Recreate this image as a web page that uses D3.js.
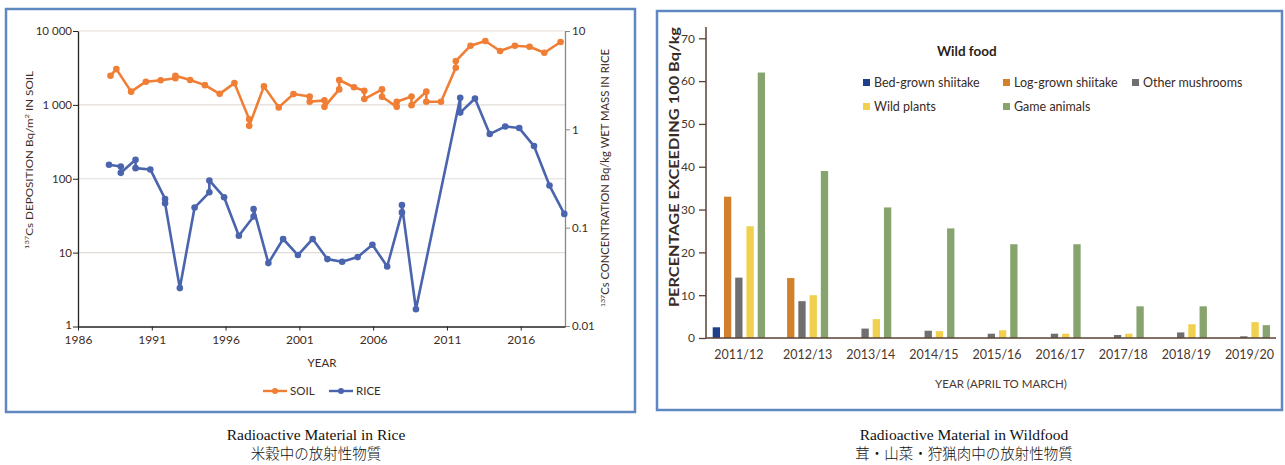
<!DOCTYPE html>
<html>
<head>
<meta charset="utf-8">
<script src="https://cdn.jsdelivr.net/npm/d3@7"></script>
<style>
  body { margin: 0; background: #fff; }
  svg { display: block; }
  text { font-family: Lato, "Noto Sans", sans-serif; }
</style>
</head>
<body>
<svg id="chart" width="1285" height="465"></svg>
<script>
// ---- left chart: 137Cs in soil and rice ----
const soilYears = [1988.2, 1988.6, 1989.6, 1990.6, 1991.6, 1992.6, 1992.6, 1993.6, 1994.6, 1995.6,
  1996.6, 1997.6, 1997.6, 1998.6, 1999.6, 2000.6, 2001.7, 2001.7, 2002.7, 2002.7,
  2003.7, 2003.7, 2004.7, 2005.4, 2005.4, 2006.6, 2006.6, 2007.6, 2007.6, 2008.6,
  2008.6, 2009.6, 2009.6, 2010.6, 2011.6, 2011.6, 2012.6, 2013.6, 2014.6, 2015.6,
  2016.6, 2017.6, 2018.7];
const soilValues = [2480, 3050, 1510, 2060, 2150, 2290, 2480, 2170, 1850, 1410,
  1970, 640, 520, 1780, 925, 1400, 1300, 1100, 1150, 940,
  1620, 2170, 1730, 1550, 1200, 1620, 1290, 940, 1100, 1300,
  990, 1510, 1100, 1100, 3180, 3920, 6320, 7320, 5360, 6320,
  6130, 5080, 7100];

const riceYears = [1988.1, 1988.9, 1988.9, 1989.9, 1989.9, 1990.9, 1991.9, 1991.9, 1992.9, 1993.9,
  1994.9, 1994.9, 1995.9, 1996.9, 1997.9, 1997.9, 1998.9, 1999.9, 2000.9, 2001.9,
  2002.9, 2003.9, 2004.95, 2005.95, 2006.95, 2007.95, 2007.95, 2008.9, 2011.9, 2011.9,
  2012.9, 2013.9, 2014.95, 2015.9, 2016.9, 2017.95, 2018.95];
const riceValues = [0.436, 0.419, 0.361, 0.491, 0.403, 0.391, 0.196, 0.177, 0.0243, 0.16,
  0.229, 0.302, 0.204, 0.0828, 0.130, 0.155, 0.0436, 0.0767, 0.0527, 0.0767,
  0.0479, 0.045, 0.0502, 0.0671, 0.0403, 0.143, 0.170, 0.0148, 2.09, 1.48,
  2.06, 0.895, 1.07, 1.03, 0.676, 0.268, 0.138];

const yearTicks = [1986, 1991, 1996, 2001, 2006, 2011, 2016];
const soilTicks = [1, 10, 100, 1000, 10000];
const soilTickLabels = ["1", "10", "100", "1 000", "10 000"];
const riceTicks = [0.01, 0.1, 1, 10];
const riceTickLabels = ["0.01", "0.1", "1", "10"];

// ---- right chart: wild food over 100 Bq/kg ----
const seasons = ["2011/12", "2012/13", "2013/14", "2014/15", "2015/16", "2016/17", "2017/18", "2018/19", "2019/20"];
const foodNames = ["Bed-grown shiitake", "Log-grown shiitake", "Other mushrooms", "Wild plants", "Game animals"];
const bedGrown = [2.5, null, null, null, null, null, null, null, null];
const logGrown = [33, 14, 0, 0, 0, 0, 0, 0, 0];
const otherMushrooms = [14.1, 8.6, 2.2, 1.7, 1.0, 1.0, 0.7, 1.3, 0.4];
const wildPlants = [26.1, 10, 4.4, 1.6, 1.8, 1.0, 1.0, 3.2, 3.7];
const gameAnimals = [62, 39, 30.5, 25.6, 21.9, 21.9, 7.4, 7.4, 3.0];
const pctTicks = [0, 10, 20, 30, 40, 50, 60, 70];

const foodSeries = [bedGrown, logGrown, otherMushrooms, wildPlants, gameAnimals];
const foodColors = ["#1f3f8c", "#d2802c", "#6f6f6f", "#f0d04c", "#87a36e"];

const svg = d3.select("#chart");
const txt = "#3e2c24";

// panel frames
svg.append("rect").attr("x", 6).attr("y", 9).attr("width", 629).attr("height", 403)
  .attr("fill", "none").attr("stroke", "#5f88c0").attr("stroke-width", 2.5);
svg.append("rect").attr("x", 657).attr("y", 11).attr("width", 625).attr("height", 399)
  .attr("fill", "none").attr("stroke", "#5f88c0").attr("stroke-width", 2.5);

// ================= left =================
const x = d3.scaleLinear().domain([1986, 2019]).range([78, 565]);
const ySoil = d3.scaleLog().domain([1, 10000]).range([326.5, 31]);
const yRice = d3.scaleLog().domain([0.01, 10]).range([326, 31]);

const L = svg.append("g");

L.selectAll(".grid").data(soilTicks.slice(1)).join("line")
  .attr("x1", x(1986)).attr("x2", x(2019))
  .attr("y1", d => ySoil(d)).attr("y2", d => ySoil(d))
  .attr("stroke", "#e2dcd8").attr("stroke-width", 1.2);

const axL = L.append("g").attr("transform", `translate(${x(1986)},0)`)
  .call(d3.axisLeft(ySoil).tickValues(soilTicks).tickFormat((d, i) => soilTickLabels[i]).tickSize(5).tickSizeOuter(0));
const axR = L.append("g").attr("transform", `translate(${x(2019)},0)`)
  .call(d3.axisRight(yRice).tickValues(riceTicks).tickFormat((d, i) => riceTickLabels[i]).tickSize(5).tickSizeOuter(0));
const axB = L.append("g").attr("transform", `translate(0,${ySoil(1)})`)
  .call(d3.axisBottom(x).tickValues(yearTicks).tickFormat(d3.format("d")).tickSize(4).tickSizeOuter(0));

[axL, axB].forEach(a => { a.select(".domain").attr("stroke", "#222").attr("stroke-width", 1.3); a.selectAll(".tick line").attr("stroke", "#222"); });
axR.select(".domain").attr("stroke", "#888").attr("stroke-width", 1.3);
axR.selectAll(".tick line").attr("stroke", "#888");
[axL, axR, axB].forEach(a => a.selectAll(".tick text").attr("fill", txt).attr("font-size", 11.5).style("font-family", "Lato, sans-serif"));
axL.selectAll(".tick text").attr("x", -6);
axL.selectAll(".tick text").filter(d => d === 1).attr("dy", "0.15em");
axR.selectAll(".tick text").attr("x", 7);
axB.selectAll(".tick text").attr("y", 9).attr("font-size", 12);

const soilLine = d3.line().x(d => x(d[0])).y(d => ySoil(d[1]));
const riceLine = d3.line().x(d => x(d[0])).y(d => yRice(d[1]));
const soilPts = soilYears.map((yr, i) => [yr, soilValues[i]]);
const ricePts = riceYears.map((yr, i) => [yr, riceValues[i]]);
const orange = "#f07e34", blue = "#4a64ae";

L.append("path").attr("d", soilLine(soilPts)).attr("fill", "none").attr("stroke", orange).attr("stroke-width", 2.6).attr("stroke-linejoin", "round");
L.selectAll(".sp").data(soilPts).join("circle").attr("cx", d => x(d[0])).attr("cy", d => ySoil(d[1])).attr("r", 3.3).attr("fill", orange);
L.append("path").attr("d", riceLine(ricePts)).attr("fill", "none").attr("stroke", blue).attr("stroke-width", 2.6).attr("stroke-linejoin", "round");
L.selectAll(".rp").data(ricePts).join("circle").attr("cx", d => x(d[0])).attr("cy", d => yRice(d[1])).attr("r", 3.3).attr("fill", blue);

// axis titles
const t1 = L.append("text").attr("transform", "translate(33,160) rotate(-90)").attr("text-anchor", "middle").attr("fill", txt).attr("font-size", 10)
  .attr("textLength", 178).attr("lengthAdjust", "spacingAndGlyphs");
t1.append("tspan").attr("font-size", 6.5).attr("dy", -4).text("137");
t1.append("tspan").attr("dy", 4).text("Cs DEPOSITION Bq/m");
t1.append("tspan").attr("font-size", 6.5).attr("dy", -4).text("2");
t1.append("tspan").attr("dy", 4).text(" IN SOIL");
const t2 = L.append("text").attr("transform", "translate(609,178) rotate(-90)").attr("text-anchor", "middle").attr("fill", txt).attr("font-size", 10.5)
  .attr("textLength", 258).attr("lengthAdjust", "spacingAndGlyphs");
t2.append("tspan").attr("font-size", 6.5).attr("dy", -4).text("137");
t2.append("tspan").attr("dy", 4).text("Cs CONCENTRATION Bq/kg WET MASS IN RICE");

L.append("text").attr("x", 322).attr("y", 367).attr("text-anchor", "middle").attr("fill", txt).attr("font-size", 11.5).text("YEAR");

const legL = [["SOIL", orange, 263], ["RICE", blue, 329]];
legL.forEach(([name, c, lx]) => {
  L.append("line").attr("x1", lx).attr("x2", lx + 24).attr("y1", 391).attr("y2", 391).attr("stroke", c).attr("stroke-width", 2.4);
  L.append("circle").attr("cx", lx + 12).attr("cy", 391).attr("r", 3).attr("fill", c);
  L.append("text").attr("x", lx + 27).attr("y", 395).attr("fill", txt).attr("font-size", 11.5).text(name);
});

// ================= right =================
const gapUnits = 1.61, barFrac = 0.65;
let u = 0;
const groups = seasons.map((s, i) => {
  const idx = foodSeries.map((ser, k) => k).filter(k => foodSeries[k][i] !== null);
  const g = { season: s, i, start: u, idx };
  u += idx.length + gapUnits;
  return g;
});
const lastG = groups[groups.length - 1];
const totalUnits = lastG.start + lastG.idx.length - 1 + barFrac;
const xs = d3.scaleLinear().domain([0, totalUnits]).range([712.7, 1270]);
const yp = d3.scaleLinear().domain([0, 70]).range([338, 38.3]);

const R = svg.append("g");
const axY = R.append("g").attr("transform", "translate(706,0)")
  .call(d3.axisLeft(yp).tickValues(pctTicks).tickSize(7).tickSizeOuter(0));
axY.select(".domain").remove();
axY.selectAll(".tick line").attr("stroke", "#5a4035").attr("stroke-width", 1.3);
axY.selectAll(".tick text").attr("x", -11).attr("fill", "#4a3830").attr("font-size", 12).style("font-family", "Lato, sans-serif");
R.append("line").attr("x1", 706).attr("x2", 706).attr("y1", 27).attr("y2", yp(0)).attr("stroke", "#5a4035").attr("stroke-width", 1.5);

const bars = [];
groups.forEach(g => g.idx.forEach((k, j) => {
  const v = foodSeries[k][g.i];
  if (v > 0) bars.push({ u: g.start + j, v, c: foodColors[k] });
}));
R.selectAll(".bar").data(bars).join("rect")
  .attr("x", d => xs(d.u)).attr("width", xs(barFrac) - xs(0))
  .attr("y", d => yp(d.v)).attr("height", d => yp(0) - yp(d.v))
  .attr("fill", d => d.c);

R.append("line").attr("x1", 706).attr("x2", 1276).attr("y1", yp(0)).attr("y2", yp(0)).attr("stroke", "#5a4035").attr("stroke-width", 1.5);

R.selectAll(".sl").data(groups).join("text")
  .attr("x", g => (xs(g.start) + xs(g.start + g.idx.length - 1 + barFrac)) / 2)
  .attr("y", 359).attr("text-anchor", "middle").attr("fill", "#4a3830").attr("font-size", 12.5)
  .text(g => g.season);

R.append("text").attr("x", 1001).attr("y", 388).attr("text-anchor", "middle").attr("fill", "#4a3830").attr("font-size", 11.5)
  .text("YEAR (APRIL TO MARCH)");
R.append("text").attr("transform", "translate(679,167) rotate(-90)").attr("text-anchor", "middle")
  .attr("fill", "#3a2a24").attr("font-size", 14).attr("font-weight", 700)
  .attr("textLength", 280).attr("lengthAdjust", "spacingAndGlyphs").text("PERCENTAGE EXCEEDING 100 Bq/kg");

R.append("text").attr("x", 937).attr("y", 56).attr("fill", "#2a1e1a").attr("font-size", 13.5).attr("font-weight", 700).text("Wild food");
const legPos = [[863, 83], [1003, 83], [1132, 83], [863, 107], [1003, 107]];
foodNames.forEach((n, k) => {
  const [lx, ly] = legPos[k];
  R.append("rect").attr("x", lx).attr("y", ly - 4).attr("width", 7).attr("height", 7).attr("fill", foodColors[k]);
  R.append("text").attr("x", lx + 11).attr("y", ly + 4).attr("fill", "#3a2a24").attr("font-size", 12.5).text(n);
});

// captions
const caps = [[316, "Radioactive Material in Rice", "米穀中の放射性物質"], [964, "Radioactive Material in Wildfood", "茸・山菜・狩猟肉中の放射性物質"]];
caps.forEach(([cx, en, ja]) => {
  svg.append("text").attr("x", cx).attr("y", 440).attr("text-anchor", "middle").attr("fill", "#111")
    .style("font-family", "'Liberation Serif', serif").attr("font-size", 15.5).text(en);
  svg.append("text").attr("x", cx).attr("y", 459).attr("text-anchor", "middle").attr("fill", "#111")
    .style("font-family", "'Noto Sans CJK JP', sans-serif").attr("font-weight", 300).attr("font-size", 14.5).text(ja);
});
</script>
</body>
</html>
